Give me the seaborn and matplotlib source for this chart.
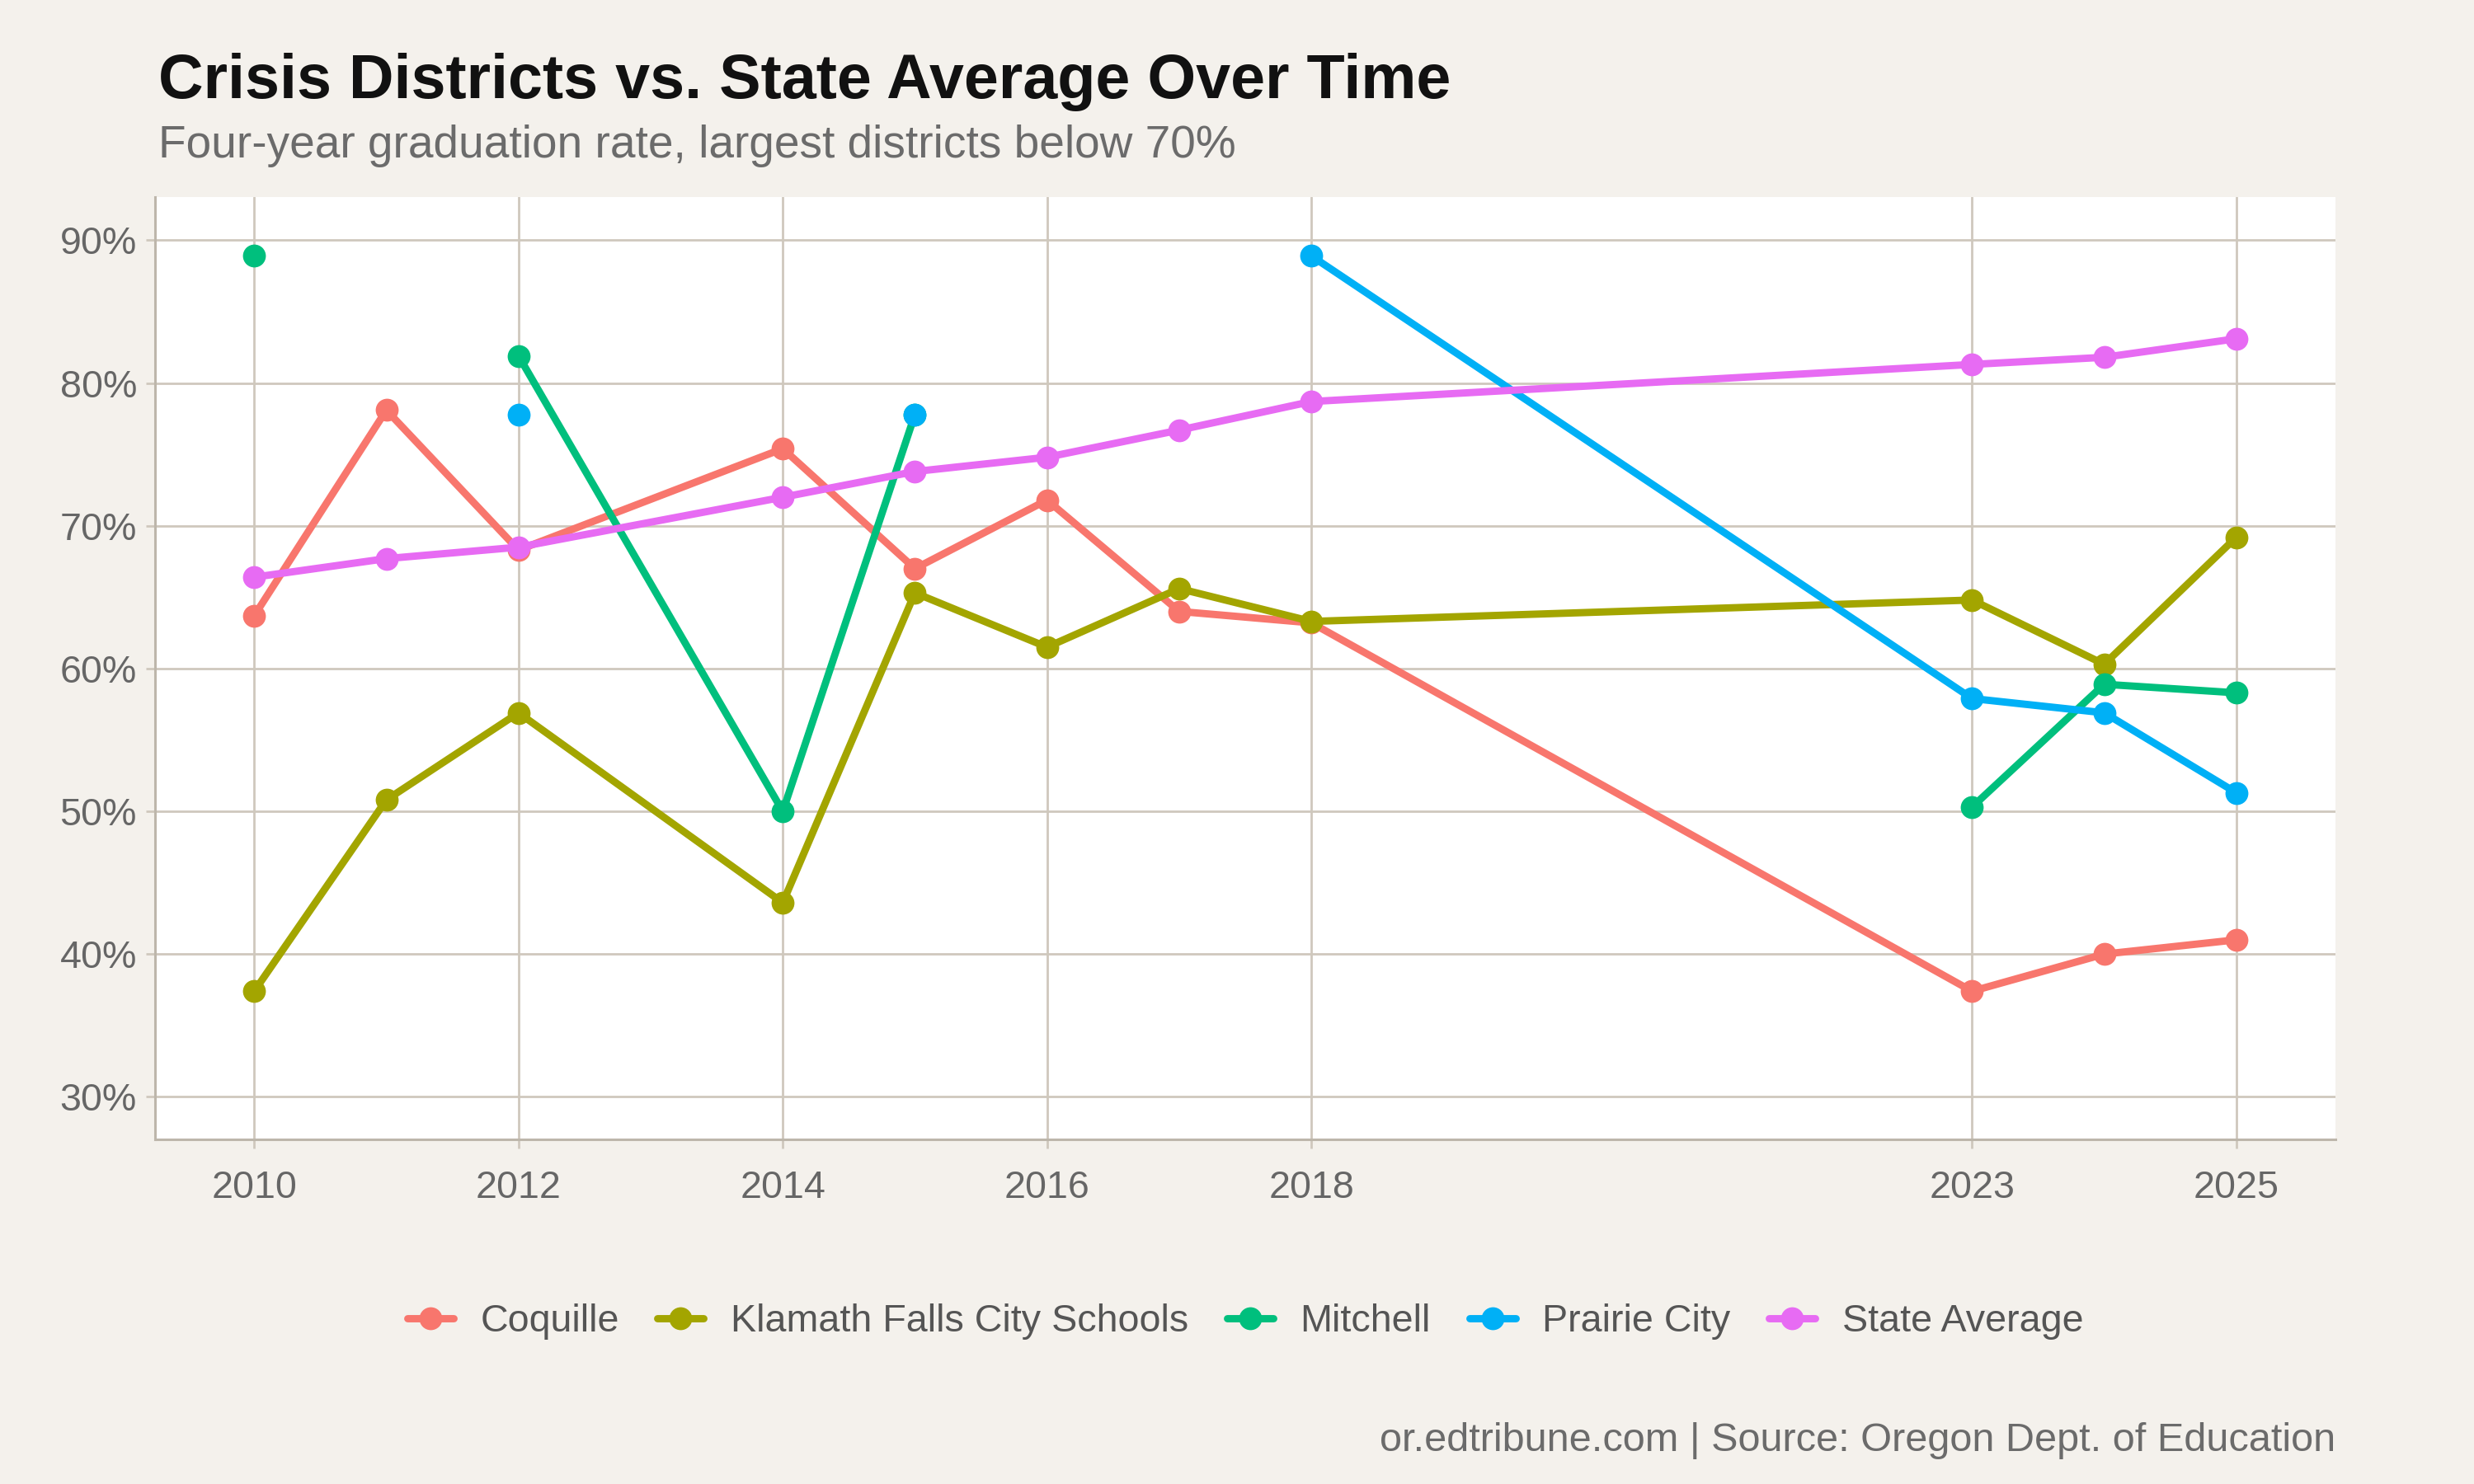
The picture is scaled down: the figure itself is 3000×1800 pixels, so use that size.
import matplotlib
matplotlib.use("Agg")
import matplotlib.pyplot as plt
import seaborn as sns
import numpy as np
import pandas as pd

nan = np.nan

years = [2010, 2011, 2012, 2014, 2015, 2016, 2017, 2018, 2023, 2024, 2025]
districts = ["Coquille", "Klamath Falls City Schools", "Mitchell", "Prairie City", "State Average"]

coquille = [63.7, 78.1, 68.3, 75.4, 67.0, 71.8, 64.0, 63.2, 37.4, 40.0, 41.0]
klamath = [37.4, 50.8, 56.9, 43.6, 65.3, 61.5, 65.6, 63.3, 64.8, 60.3, 69.2]
mitchell = [88.9, nan, 81.9, 50.0, 77.8, nan, nan, nan, 50.3, 58.9, 58.3]
prairie = [nan, nan, 77.8, nan, 77.8, nan, nan, 88.9, 57.9, 56.9, 51.3]
state_avg = [66.4, 67.7, 68.5, 72.0, 73.8, 74.8, 76.7, 78.7, 81.3, 81.8, 83.1]

colors = ["#F8766D", "#A3A500", "#00BF7D", "#00B0F6", "#E76BF3"]
x_ticks = [2010, 2012, 2014, 2016, 2018, 2023, 2025]

# long table; a new segment starts after every missing year so lines break like geom_line
rows = []
for name, vals in zip(districts, [coquille, klamath, mitchell, prairie, state_avg]):
    seg = 0
    prev_missing = True
    for yr, v in zip(years, vals):
        if np.isnan(v):
            prev_missing = True
            continue
        if prev_missing:
            seg += 1
        prev_missing = False
        rows.append({"year": yr, "rate": v, "district": name, "seg": f"{name}-{seg}"})
df = pd.DataFrame(rows)

bg = "#F4F1EC"
grid = "#CFC8BD"
sns.set_theme(style="white")
plt.rcParams["font.family"] = ["Liberation Sans", "DejaVu Sans"]

fig = plt.figure(figsize=(15, 9), dpi=200, facecolor=bg)
ax = fig.add_axes([0.0627, 0.232, 0.8813, 0.635])
ax.set_facecolor("white")

sns.lineplot(data=df, x="year", y="rate", hue="district", hue_order=districts,
             palette=colors, units="seg", estimator=None, marker="o",
             markersize=10, markeredgewidth=0, linewidth=3.2, ax=ax, zorder=3)

ax.set_xlim(2009.25, 2025.75)
ax.set_ylim(27, 93)
ax.set_xticks(x_ticks)
ax.set_xticklabels([str(t) for t in x_ticks])
ax.set_yticks(range(30, 91, 10))
ax.set_yticklabels([f"{t}%" for t in range(30, 91, 10)])
ax.grid(True, color=grid, linewidth=1.0, zorder=0)
ax.set_axisbelow(True)
ax.set_xlabel("")
ax.set_ylabel("")
for s in ["top", "right"]:
    ax.spines[s].set_visible(False)
for s in ["left", "bottom"]:
    ax.spines[s].set_color("#BDB6AB")
    ax.spines[s].set_linewidth(1.1)
ax.tick_params(axis="both", length=4, width=1.0, color=grid, labelsize=16.8,
               labelcolor="#666666", pad=4, direction="out")
ax.tick_params(axis="x", pad=9)
ax.tick_params(axis="both", which="both", bottom=True, left=True)

sns.move_legend(ax, "center", bbox_to_anchor=(0.5, -0.193), ncol=5, frameon=False,
                title=None, fontsize=16.8, handlelength=1.2, columnspacing=1.0,
                handletextpad=0.7)
for t in ax.get_legend().get_texts():
    t.set_color("#555555")

fig.text(0.064, 0.934, "Crisis Districts vs. State Average Over Time", fontsize=27.2,
         fontweight="bold", color="#111111", ha="left", va="baseline")
fig.text(0.064, 0.894, "Four-year graduation rate, largest districts below 70%", fontsize=19.8,
         color="#6B6B6B", ha="left", va="baseline")
fig.text(0.944, 0.022, "or.edtribune.com | Source: Oregon Dept. of Education", fontsize=17.5,
         color="#6B6B6B", ha="right", va="baseline")

fig.savefig("out.png", dpi=200, facecolor=bg)
